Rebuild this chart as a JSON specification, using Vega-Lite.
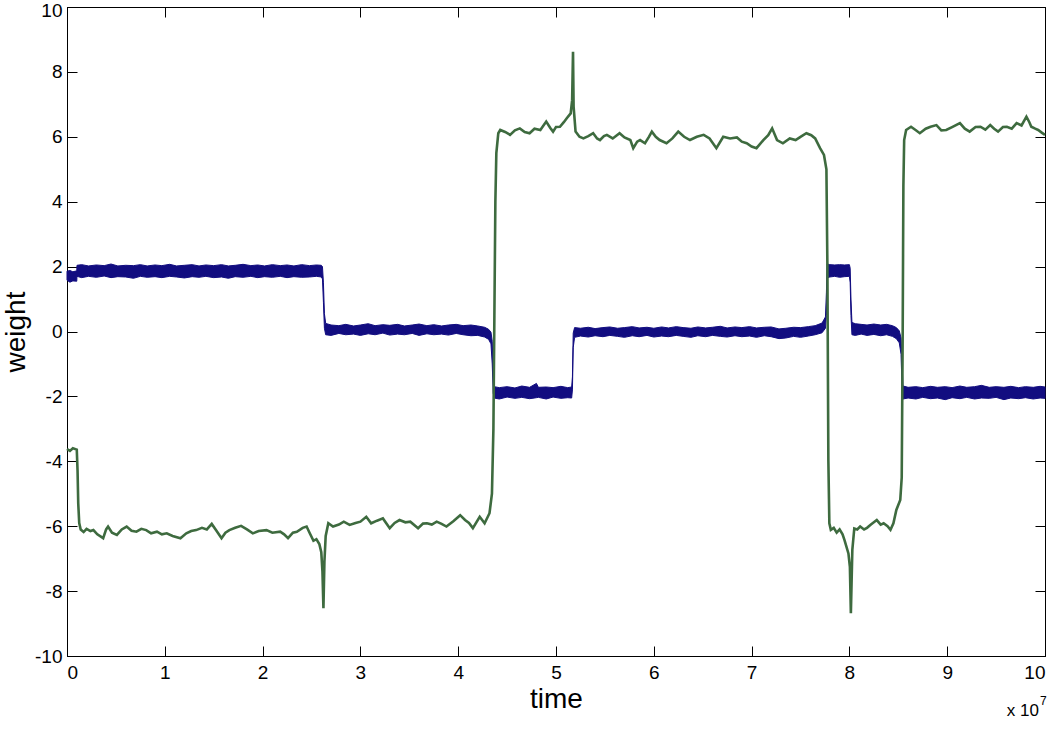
{
"$schema": "https://vega.github.io/schema/vega-lite/v6.json",
"width": 978, "height": 649,
"autosize": {"type": "none"},
"padding": {"left": 67, "top": 7, "right": 12, "bottom": 74},
"background": "white",
"config": {
  "view": {"stroke": "black", "strokeWidth": 1},
  "font": "Liberation Sans",
  "axis": {"domainColor": "black", "domainWidth": 1, "tickColor": "black", "tickWidth": 1, "labelColor": "black", "titleColor": "black", "grid": false, "labelFont": "Liberation Sans", "labelFontSize": 19, "tickSize": -10, "labelPadding": 16, "titleFont": "Liberation Sans", "titleFontSize": 28, "titleFontWeight": "normal"}
},
"datasets": {
  "blue": [
    {"t":0,"lo":1.58,"hi":1.86},{"t":0.03,"lo":1.52,"hi":1.88},{"t":0.06,"lo":1.56,"hi":1.84},{"t":0.1,"lo":1.55,"hi":1.87},{"t":0.102,"lo":1.7,"hi":2.04},
    {"t":0.15,"lo":1.66,"hi":2.06},{"t":0.22,"lo":1.7,"hi":2.02},{"t":0.3,"lo":1.67,"hi":2.05},{"t":0.38,"lo":1.71,"hi":2.03},{"t":0.45,"lo":1.66,"hi":2.08},
    {"t":0.52,"lo":1.69,"hi":2.02},{"t":0.6,"lo":1.68,"hi":2.04},{"t":0.68,"lo":1.64,"hi":2.03},{"t":0.75,"lo":1.7,"hi":2.06},{"t":0.82,"lo":1.67,"hi":2.02},
    {"t":0.9,"lo":1.69,"hi":2.05},{"t":0.97,"lo":1.66,"hi":2.03},{"t":1.05,"lo":1.7,"hi":2.07},{"t":1.12,"lo":1.68,"hi":2.02},{"t":1.2,"lo":1.65,"hi":2.04},
    {"t":1.28,"lo":1.69,"hi":2.06},{"t":1.35,"lo":1.67,"hi":2.02},{"t":1.42,"lo":1.7,"hi":2.05},{"t":1.5,"lo":1.66,"hi":2.03},{"t":1.58,"lo":1.68,"hi":2.06},
    {"t":1.65,"lo":1.64,"hi":2.02},{"t":1.72,"lo":1.69,"hi":2.04},{"t":1.8,"lo":1.67,"hi":2.07},{"t":1.88,"lo":1.7,"hi":2.03},{"t":1.95,"lo":1.66,"hi":2.05},
    {"t":2.02,"lo":1.69,"hi":2.02},{"t":2.1,"lo":1.67,"hi":2.06},{"t":2.18,"lo":1.7,"hi":2.03},{"t":2.25,"lo":1.66,"hi":2.05},{"t":2.32,"lo":1.69,"hi":2.02},
    {"t":2.4,"lo":1.67,"hi":2.06},{"t":2.48,"lo":1.68,"hi":2.03},{"t":2.55,"lo":1.7,"hi":2.05},{"t":2.6,"lo":1.68,"hi":2.04},{"t":2.612,"lo":1.62,"hi":2.0},
    {"t":2.622,"lo":0.9,"hi":1.5},{"t":2.632,"lo":0.1,"hi":0.55},{"t":2.645,"lo":-0.1,"hi":0.25},{"t":2.7,"lo":-0.12,"hi":0.2},{"t":2.78,"lo":-0.06,"hi":0.18},
    {"t":2.85,"lo":-0.1,"hi":0.22},{"t":2.93,"lo":-0.08,"hi":0.17},{"t":3.0,"lo":-0.12,"hi":0.2},{"t":3.08,"lo":-0.07,"hi":0.24},{"t":3.15,"lo":-0.1,"hi":0.18},
    {"t":3.23,"lo":-0.05,"hi":0.21},{"t":3.3,"lo":-0.11,"hi":0.19},{"t":3.38,"lo":-0.08,"hi":0.22},{"t":3.45,"lo":-0.1,"hi":0.17},{"t":3.53,"lo":-0.06,"hi":0.2},
    {"t":3.6,"lo":-0.12,"hi":0.23},{"t":3.68,"lo":-0.07,"hi":0.18},{"t":3.75,"lo":-0.1,"hi":0.21},{"t":3.83,"lo":-0.08,"hi":0.17},{"t":3.9,"lo":-0.11,"hi":0.2},
    {"t":3.98,"lo":-0.06,"hi":0.22},{"t":4.05,"lo":-0.1,"hi":0.18},{"t":4.13,"lo":-0.13,"hi":0.2},{"t":4.2,"lo":-0.12,"hi":0.17},{"t":4.27,"lo":-0.17,"hi":0.13},
    {"t":4.31,"lo":-0.24,"hi":0.07},{"t":4.335,"lo":-0.38,"hi":-0.02},{"t":4.348,"lo":-1.0,"hi":-0.3},{"t":4.358,"lo":-1.9,"hi":-1.3},{"t":4.368,"lo":-2.05,"hi":-1.7},
    {"t":4.42,"lo":-2.08,"hi":-1.73},{"t":4.5,"lo":-2.02,"hi":-1.7},{"t":4.58,"lo":-2.06,"hi":-1.74},{"t":4.65,"lo":-2.03,"hi":-1.68},{"t":4.73,"lo":-2.07,"hi":-1.72},
    {"t":4.8,"lo":-2.04,"hi":-1.6},{"t":4.82,"lo":-2.03,"hi":-1.72},{"t":4.9,"lo":-2.08,"hi":-1.71},{"t":4.97,"lo":-2.02,"hi":-1.73},{"t":5.05,"lo":-2.06,"hi":-1.69},
    {"t":5.12,"lo":-2.04,"hi":-1.73},{"t":5.16,"lo":-2.05,"hi":-1.71},{"t":5.168,"lo":-1.8,"hi":-1.4},{"t":5.176,"lo":-0.5,"hi":-0.05},{"t":5.19,"lo":-0.18,"hi":0.12},
    {"t":5.25,"lo":-0.14,"hi":0.1},{"t":5.33,"lo":-0.17,"hi":0.13},{"t":5.4,"lo":-0.13,"hi":0.09},{"t":5.48,"lo":-0.16,"hi":0.12},{"t":5.55,"lo":-0.12,"hi":0.14},
    {"t":5.63,"lo":-0.15,"hi":0.1},{"t":5.7,"lo":-0.18,"hi":0.12},{"t":5.78,"lo":-0.13,"hi":0.15},{"t":5.85,"lo":-0.16,"hi":0.11},{"t":5.93,"lo":-0.12,"hi":0.13},
    {"t":6.0,"lo":-0.17,"hi":0.1},{"t":6.08,"lo":-0.14,"hi":0.14},{"t":6.15,"lo":-0.16,"hi":0.11},{"t":6.23,"lo":-0.12,"hi":0.15},{"t":6.3,"lo":-0.15,"hi":0.12},
    {"t":6.38,"lo":-0.18,"hi":0.1},{"t":6.45,"lo":-0.13,"hi":0.14},{"t":6.53,"lo":-0.16,"hi":0.11},{"t":6.6,"lo":-0.12,"hi":0.13},{"t":6.68,"lo":-0.15,"hi":0.16},
    {"t":6.75,"lo":-0.17,"hi":0.11},{"t":6.83,"lo":-0.13,"hi":0.14},{"t":6.9,"lo":-0.16,"hi":0.12},{"t":6.98,"lo":-0.14,"hi":0.15},{"t":7.05,"lo":-0.18,"hi":0.11},
    {"t":7.13,"lo":-0.13,"hi":0.13},{"t":7.2,"lo":-0.16,"hi":0.14},{"t":7.28,"lo":-0.22,"hi":0.08},{"t":7.35,"lo":-0.2,"hi":0.1},{"t":7.43,"lo":-0.15,"hi":0.13},
    {"t":7.5,"lo":-0.18,"hi":0.12},{"t":7.58,"lo":-0.14,"hi":0.15},{"t":7.65,"lo":-0.1,"hi":0.18},{"t":7.72,"lo":-0.04,"hi":0.26},{"t":7.755,"lo":0.1,"hi":0.45},
    {"t":7.765,"lo":0.5,"hi":1.2},{"t":7.772,"lo":1.65,"hi":2.08},{"t":7.8,"lo":1.68,"hi":2.06},{"t":7.85,"lo":1.7,"hi":2.05},{"t":7.9,"lo":1.67,"hi":2.06},
    {"t":7.95,"lo":1.69,"hi":2.05},{"t":8.0,"lo":1.7,"hi":2.06},{"t":8.008,"lo":1.5,"hi":1.95},{"t":8.016,"lo":0.5,"hi":1.0},{"t":8.026,"lo":-0.1,"hi":0.28},
    {"t":8.06,"lo":-0.12,"hi":0.24},{"t":8.12,"lo":-0.08,"hi":0.22},{"t":8.18,"lo":-0.12,"hi":0.2},{"t":8.25,"lo":-0.09,"hi":0.23},{"t":8.32,"lo":-0.13,"hi":0.2},
    {"t":8.38,"lo":-0.1,"hi":0.22},{"t":8.44,"lo":-0.15,"hi":0.18},{"t":8.48,"lo":-0.22,"hi":0.12},{"t":8.51,"lo":-0.35,"hi":0.02},{"t":8.528,"lo":-0.7,"hi":-0.2},
    {"t":8.538,"lo":-1.7,"hi":-0.9},{"t":8.548,"lo":-2.08,"hi":-1.68},{"t":8.6,"lo":-2.05,"hi":-1.72},{"t":8.68,"lo":-2.08,"hi":-1.7},{"t":8.75,"lo":-2.03,"hi":-1.73},
    {"t":8.83,"lo":-2.07,"hi":-1.69},{"t":8.9,"lo":-2.05,"hi":-1.72},{"t":8.98,"lo":-2.1,"hi":-1.7},{"t":9.05,"lo":-2.04,"hi":-1.73},{"t":9.13,"lo":-2.07,"hi":-1.68},
    {"t":9.2,"lo":-2.03,"hi":-1.72},{"t":9.28,"lo":-2.08,"hi":-1.7},{"t":9.35,"lo":-2.05,"hi":-1.66},{"t":9.43,"lo":-2.06,"hi":-1.72},{"t":9.5,"lo":-2.03,"hi":-1.7},
    {"t":9.58,"lo":-2.1,"hi":-1.72},{"t":9.65,"lo":-2.05,"hi":-1.69},{"t":9.73,"lo":-2.07,"hi":-1.73},{"t":9.8,"lo":-2.04,"hi":-1.7},{"t":9.88,"lo":-2.08,"hi":-1.72},
    {"t":9.95,"lo":-2.05,"hi":-1.69},{"t":10,"lo":-2.06,"hi":-1.71}
  ],
  "green": [
    {"t":0,"v":-3.62},{"t":0.03,"v":-3.68},{"t":0.06,"v":-3.6},{"t":0.1,"v":-3.64},{"t":0.108,"v":-4.3},{"t":0.115,"v":-5.3},{"t":0.125,"v":-5.9},{"t":0.14,"v":-6.1},
    {"t":0.17,"v":-6.18},{"t":0.2,"v":-6.08},{"t":0.24,"v":-6.15},{"t":0.27,"v":-6.12},{"t":0.31,"v":-6.25},{"t":0.37,"v":-6.37},{"t":0.4,"v":-6.1},{"t":0.42,"v":-6.01},
    {"t":0.46,"v":-6.2},{"t":0.51,"v":-6.27},{"t":0.56,"v":-6.1},{"t":0.61,"v":-6.01},{"t":0.66,"v":-6.14},{"t":0.71,"v":-6.17},{"t":0.76,"v":-6.08},{"t":0.81,"v":-6.12},
    {"t":0.86,"v":-6.22},{"t":0.92,"v":-6.17},{"t":0.97,"v":-6.25},{"t":1.02,"v":-6.22},{"t":1.08,"v":-6.3},{"t":1.16,"v":-6.37},{"t":1.22,"v":-6.22},{"t":1.27,"v":-6.15},
    {"t":1.32,"v":-6.12},{"t":1.38,"v":-6.05},{"t":1.43,"v":-6.1},{"t":1.48,"v":-5.93},{"t":1.53,"v":-6.15},{"t":1.58,"v":-6.37},{"t":1.62,"v":-6.2},{"t":1.66,"v":-6.12},
    {"t":1.72,"v":-6.05},{"t":1.78,"v":-5.99},{"t":1.84,"v":-6.1},{"t":1.9,"v":-6.22},{"t":1.96,"v":-6.15},{"t":2.04,"v":-6.12},{"t":2.1,"v":-6.2},{"t":2.18,"v":-6.17},
    {"t":2.22,"v":-6.25},{"t":2.26,"v":-6.37},{"t":2.31,"v":-6.2},{"t":2.35,"v":-6.17},{"t":2.41,"v":-6.05},{"t":2.45,"v":-6.01},{"t":2.48,"v":-6.2},{"t":2.52,"v":-6.45},
    {"t":2.55,"v":-6.4},{"t":2.58,"v":-6.55},{"t":2.6,"v":-6.8},{"t":2.612,"v":-7.4},{"t":2.622,"v":-8.53},{"t":2.632,"v":-7.1},{"t":2.645,"v":-6.3},{"t":2.672,"v":-5.91},
    {"t":2.72,"v":-6.01},{"t":2.78,"v":-5.95},{"t":2.83,"v":-5.86},{"t":2.89,"v":-5.96},{"t":2.95,"v":-5.9},{"t":3.0,"v":-5.86},{"t":3.06,"v":-5.71},{"t":3.11,"v":-5.91},
    {"t":3.17,"v":-5.83},{"t":3.23,"v":-5.76},{"t":3.3,"v":-6.06},{"t":3.35,"v":-5.9},{"t":3.4,"v":-5.81},{"t":3.46,"v":-5.88},{"t":3.51,"v":-5.86},{"t":3.59,"v":-6.06},
    {"t":3.64,"v":-5.92},{"t":3.68,"v":-5.91},{"t":3.73,"v":-5.95},{"t":3.78,"v":-5.86},{"t":3.83,"v":-5.93},{"t":3.88,"v":-6.01},{"t":3.95,"v":-5.85},{"t":4.02,"v":-5.66},
    {"t":4.07,"v":-5.81},{"t":4.11,"v":-5.9},{"t":4.15,"v":-6.06},{"t":4.22,"v":-5.71},{"t":4.27,"v":-5.91},{"t":4.32,"v":-5.6},{"t":4.345,"v":-5.0},{"t":4.36,"v":-3.0},
    {"t":4.37,"v":0.5},{"t":4.38,"v":4.0},{"t":4.39,"v":5.5},{"t":4.41,"v":6.11},{"t":4.43,"v":6.21},{"t":4.48,"v":6.15},{"t":4.53,"v":6.06},{"t":4.58,"v":6.2},
    {"t":4.63,"v":6.26},{"t":4.68,"v":6.15},{"t":4.73,"v":6.11},{"t":4.78,"v":6.25},{"t":4.84,"v":6.21},{"t":4.9,"v":6.47},{"t":4.94,"v":6.28},{"t":4.97,"v":6.16},
    {"t":5.0,"v":6.3},{"t":5.04,"v":6.31},{"t":5.08,"v":6.45},{"t":5.11,"v":6.57},{"t":5.15,"v":6.72},{"t":5.165,"v":7.13},{"t":5.174,"v":8.62},{"t":5.18,"v":6.93},
    {"t":5.2,"v":6.16},{"t":5.24,"v":6.0},{"t":5.28,"v":5.95},{"t":5.33,"v":6.02},{"t":5.38,"v":6.11},{"t":5.42,"v":5.95},{"t":5.45,"v":5.9},{"t":5.49,"v":6.02},
    {"t":5.52,"v":6.06},{"t":5.58,"v":5.95},{"t":5.65,"v":6.11},{"t":5.7,"v":5.98},{"t":5.76,"v":5.9},{"t":5.79,"v":5.65},{"t":5.83,"v":5.85},{"t":5.86,"v":5.9},
    {"t":5.91,"v":5.8},{"t":5.95,"v":6.0},{"t":5.98,"v":6.16},{"t":6.02,"v":6.0},{"t":6.06,"v":5.9},{"t":6.13,"v":5.8},{"t":6.19,"v":5.95},{"t":6.25,"v":6.16},
    {"t":6.31,"v":6.0},{"t":6.37,"v":5.9},{"t":6.44,"v":6.0},{"t":6.51,"v":6.06},{"t":6.57,"v":5.95},{"t":6.64,"v":5.65},{"t":6.71,"v":6.0},{"t":6.78,"v":5.95},
    {"t":6.85,"v":5.98},{"t":6.9,"v":5.85},{"t":6.95,"v":5.8},{"t":7.0,"v":5.7},{"t":7.05,"v":5.65},{"t":7.12,"v":5.9},{"t":7.17,"v":6.05},{"t":7.21,"v":6.26},
    {"t":7.26,"v":5.9},{"t":7.32,"v":5.8},{"t":7.39,"v":5.95},{"t":7.45,"v":5.9},{"t":7.5,"v":6.0},{"t":7.56,"v":6.11},{"t":7.61,"v":6.05},{"t":7.65,"v":5.95},
    {"t":7.7,"v":5.65},{"t":7.74,"v":5.44},{"t":7.765,"v":5.0},{"t":7.775,"v":2.0},{"t":7.785,"v":-4.0},{"t":7.795,"v":-5.91},{"t":7.81,"v":-6.11},{"t":7.84,"v":-6.05},
    {"t":7.87,"v":-6.2},{"t":7.9,"v":-6.1},{"t":7.93,"v":-6.25},{"t":7.95,"v":-6.43},{"t":7.99,"v":-6.84},{"t":8.005,"v":-7.25},{"t":8.015,"v":-8.68},{"t":8.03,"v":-6.73},
    {"t":8.05,"v":-6.07},{"t":8.08,"v":-6.1},{"t":8.11,"v":-6.01},{"t":8.15,"v":-6.1},{"t":8.18,"v":-6.05},{"t":8.22,"v":-5.95},{"t":8.28,"v":-5.81},{"t":8.32,"v":-5.95},
    {"t":8.35,"v":-5.91},{"t":8.39,"v":-6.0},{"t":8.42,"v":-6.11},{"t":8.45,"v":-5.91},{"t":8.48,"v":-5.5},{"t":8.52,"v":-5.19},{"t":8.535,"v":-4.5},{"t":8.545,"v":0.0},
    {"t":8.552,"v":4.5},{"t":8.56,"v":5.9},{"t":8.58,"v":6.21},{"t":8.63,"v":6.31},{"t":8.68,"v":6.2},{"t":8.72,"v":6.11},{"t":8.78,"v":6.25},{"t":8.83,"v":6.31},
    {"t":8.89,"v":6.36},{"t":8.94,"v":6.2},{"t":8.99,"v":6.21},{"t":9.05,"v":6.3},{"t":9.13,"v":6.42},{"t":9.18,"v":6.25},{"t":9.23,"v":6.16},{"t":9.29,"v":6.3},
    {"t":9.34,"v":6.31},{"t":9.39,"v":6.22},{"t":9.44,"v":6.36},{"t":9.48,"v":6.25},{"t":9.52,"v":6.16},{"t":9.57,"v":6.3},{"t":9.61,"v":6.31},{"t":9.66,"v":6.25},
    {"t":9.71,"v":6.42},{"t":9.76,"v":6.35},{"t":9.81,"v":6.62},{"t":9.84,"v":6.45},{"t":9.86,"v":6.31},{"t":9.9,"v":6.25},{"t":9.93,"v":6.21},{"t":9.97,"v":6.12},{"t":10,"v":6.06}
  ]
},
"layer": [
  {
    "data": {"name": "blue"},
    "mark": {"type": "area", "color": "#120d80", "stroke": "#120d80", "strokeWidth": 1, "opacity": 1},
    "encoding": {
      "x": {"field": "t", "type": "quantitative", "scale": {"domain": [0, 10], "nice": false, "zero": false}, "axis": {"orient": "bottom", "values": [0,1,2,3,4,5,6,7,8,9,10], "title": "time", "titlePadding": 3, "labelPadding": 17}},
      "y": {"field": "lo", "type": "quantitative", "scale": {"domain": [-10, 10], "nice": false, "zero": false}, "axis": {"orient": "left", "values": [-10,-8,-6,-4,-2,0,2,4,6,8,10], "labelExpr": "'' + datum.value", "labelOffset": {"condition": {"test": "datum.value == 10", "value": 3}, "value": 0}, "title": "weight", "titlePadding": 4, "labelPadding": 15}},
      "y2": {"field": "hi"}
    }
  },
  {
    "data": {"name": "green"},
    "mark": {"type": "line", "color": "#3e6b3f", "strokeWidth": 2.6},
    "encoding": {
      "x": {"field": "t", "type": "quantitative", "axis": {"orient": "top", "values": [0,1,2,3,4,5,6,7,8,9,10], "labels": false, "title": null}},
      "y": {"field": "v", "type": "quantitative", "axis": {"orient": "right", "values": [-10,-8,-6,-4,-2,0,2,4,6,8,10], "labels": false, "title": null}}
    }
  },
  {
    "data": {"values": [{"label": "x 10"}]},
    "mark": {"type": "text", "align": "right", "baseline": "alphabetic", "dx": -6, "dy": 60, "fontSize": 17, "font": "Liberation Sans", "color": "black"},
    "encoding": {
      "x": {"datum": 10, "type": "quantitative", "axis": null},
      "y": {"datum": -10, "type": "quantitative", "axis": null},
      "text": {"field": "label"}
    }
  },
  {
    "data": {"values": [{"label": "7"}]},
    "mark": {"type": "text", "align": "left", "baseline": "alphabetic", "dx": -5, "dy": 49, "fontSize": 12, "font": "Liberation Sans", "color": "black"},
    "encoding": {
      "x": {"datum": 10, "type": "quantitative", "axis": null},
      "y": {"datum": -10, "type": "quantitative", "axis": null},
      "text": {"field": "label"}
    }
  }
],
"resolve": {"axis": {"x": "independent", "y": "independent"}}
}
